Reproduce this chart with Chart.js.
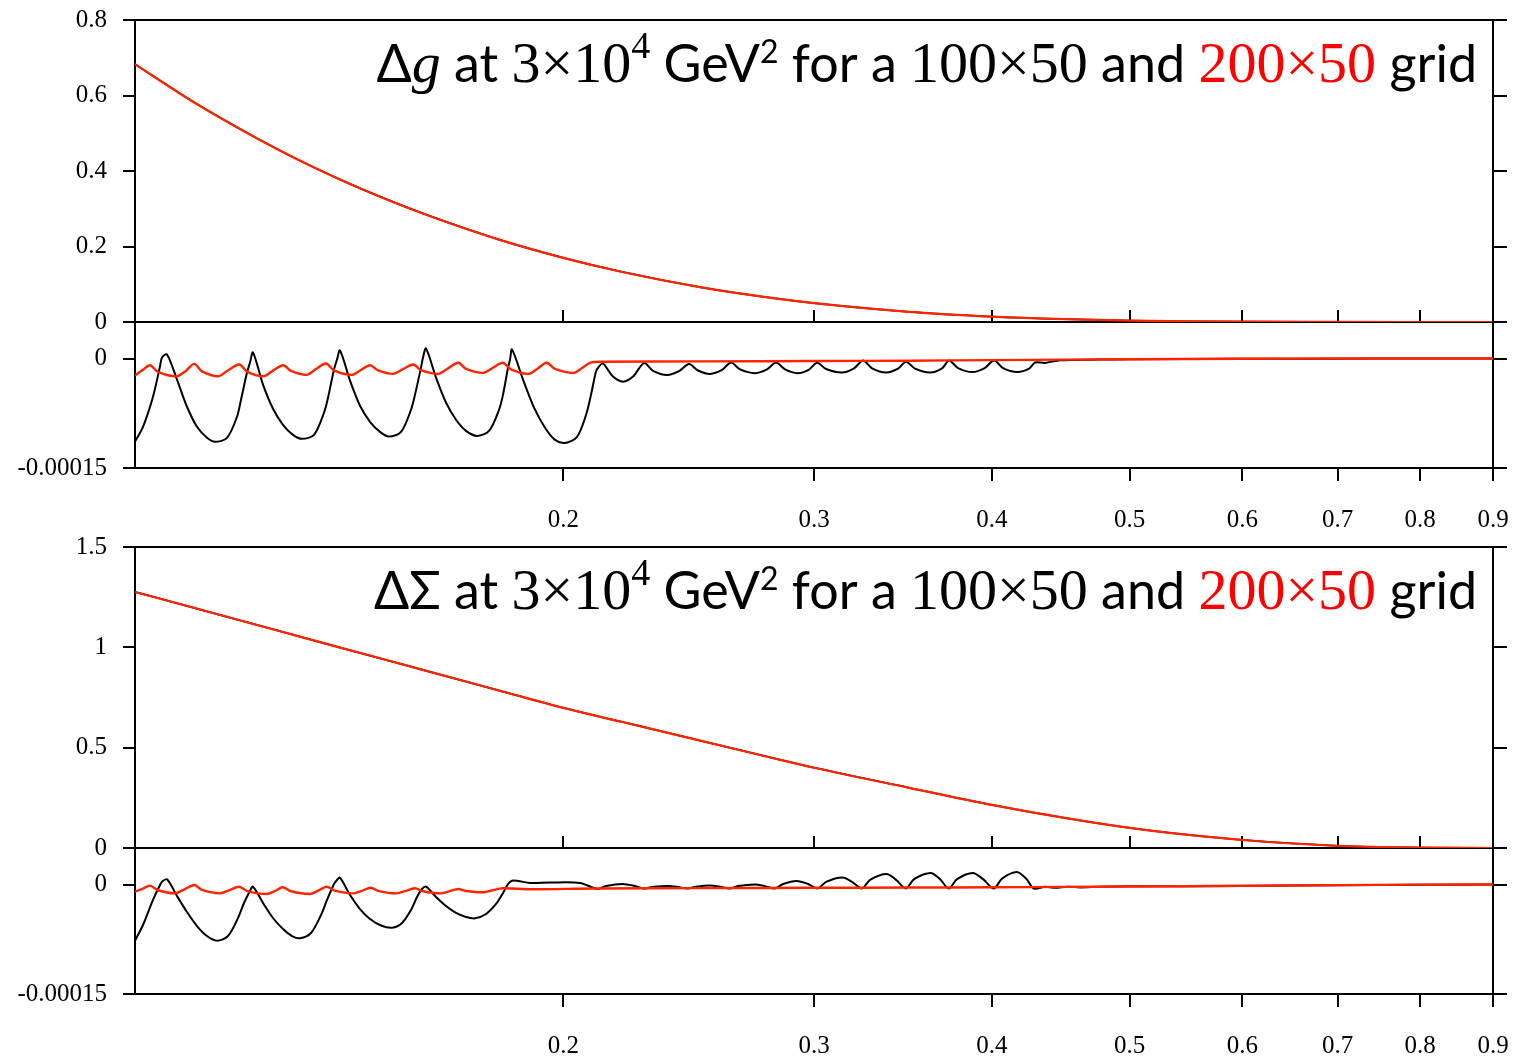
<!DOCTYPE html>
<html>
<head>
<meta charset="utf-8">
<title>Δg and ΔΣ grid comparison</title>
<script src="https://cdn.jsdelivr.net/npm/chart.js@4.4.1/dist/chart.umd.min.js"></script>
<style>
  html, body { margin: 0; padding: 0; background: #fff; overflow: hidden; }
  #page { position: relative; width: 1535px; height: 1057px; }
  canvas { position: absolute; left: 0; }
</style>
</head>
<body>
<div id="page">
  <canvas id="dg-main" width="1535" height="340" style="top:0px"></canvas>
  <canvas id="dg-res" width="1535" height="250" style="top:300px"></canvas>
  <canvas id="ds-main" width="1535" height="339" style="top:527px"></canvas>
  <canvas id="ds-res" width="1535" height="250" style="top:826px"></canvas>
</div>
<script>
// ---- tick positions ----
const xTicks = [0.2, 0.3, 0.4, 0.5, 0.6, 0.7, 0.8, 0.9];
const dgTicks = [0, 0.2, 0.4, 0.6, 0.8];
const dsTicks = [0, 0.5, 1, 1.5];
const resTicks = [-0.00015, 0];
const resTicksRight = [-0.00015, 0, 0.00005];

// ---- distributions at 3x10^4 GeV^2 ----
const xMain = [0.1, 0.11, 0.12, 0.13, 0.14, 0.15, 0.16, 0.18, 0.2, 0.22, 0.25, 0.28, 0.3, 0.35, 0.4, 0.45, 0.5, 0.55, 0.6, 0.7, 0.8, 0.9];
const dgGrid100 = [0.683, 0.582, 0.500, 0.431, 0.374, 0.326, 0.285, 0.219, 0.170, 0.1325, 0.0916, 0.0637, 0.050, 0.027, 0.0144, 0.0074, 0.0037, 0.0017, 0.00075, 0.0001, 0.00001, 0];
const dgGrid200 = [0.683, 0.582, 0.500, 0.431, 0.374, 0.326, 0.285, 0.219, 0.170, 0.1325, 0.0916, 0.0637, 0.050, 0.027, 0.0144, 0.0074, 0.0037, 0.0017, 0.00075, 0.0001, 0.00001, 0];
const dsGrid100 = [1.276, 1.197, 1.124, 1.057, 0.995, 0.938, 0.884, 0.786, 0.698, 0.628, 0.534, 0.450, 0.400, 0.300, 0.215, 0.150, 0.100, 0.065, 0.040, 0.011, 0.002, 0];
const dsGrid200 = [1.276, 1.197, 1.124, 1.057, 0.995, 0.938, 0.884, 0.786, 0.698, 0.628, 0.534, 0.450, 0.400, 0.300, 0.215, 0.150, 0.100, 0.065, 0.040, 0.011, 0.002, 0];

// ---- Δg differences, 100x50 grid ----
const dgRes100X = [
  0.100000, 0.101300, 0.102955, 0.104128, 0.104466, 0.105314, 0.107032, 0.108778, 0.110553, 0.112357,
  0.113820, 0.116052, 0.117945, 0.118711, 0.119869, 0.120452, 0.121038, 0.123013, 0.125020, 0.127059,
  0.129132, 0.131026, 0.133596, 0.135775, 0.136656, 0.137989, 0.138661, 0.139336, 0.141609, 0.143918,
  0.146266, 0.148653, 0.150833, 0.153791, 0.156299, 0.157314, 0.158849, 0.159364, 0.160139, 0.162752,
  0.165407, 0.168105, 0.170848, 0.173915, 0.177326, 0.180219, 0.181388, 0.182863, 0.183455, 0.184050,
  0.187355, 0.190720, 0.194145, 0.197312, 0.200531, 0.204462, 0.207462, 0.209148, 0.210847, 0.211873,
  0.213248, 0.216727, 0.220263, 0.223856, 0.227877, 0.231218, 0.236516, 0.241155, 0.245088, 0.248684,
  0.253559, 0.258531, 0.262324, 0.266173, 0.272712, 0.278058, 0.282138, 0.286278, 0.292128, 0.297614,
  0.301491, 0.305915, 0.313939, 0.320094, 0.324790, 0.329555, 0.337106, 0.343716, 0.348194, 0.353302,
  0.361982, 0.369081, 0.373285, 0.378761, 0.387754, 0.395356, 0.401481, 0.407368, 0.416702, 0.424874,
  0.429020, 0.436019, 0.446730, 0.476603, 0.5, 0.6, 0.7, 0.8, 0.9
];
const dgRes100 = [
  -11.38e-5, -9.36e-5, -5.23e-5, -1.10e-5, 0.14e-5, 0.55e-5, -2.89e-5, -6.61e-5, -9.36e-5, -10.87e-5,
  -11.42e-5, -10.87e-5, -7.98e-5, -5.64e-5, -1.93e-5, -0.55e-5, 0.83e-5, -3.58e-5, -6.88e-5, -9.08e-5,
  -10.46e-5, -11.01e-5, -10.46e-5, -7.43e-5, -5.37e-5, -1.51e-5, -0.14e-5, 1.10e-5, -3.03e-5, -6.47e-5,
  -8.67e-5, -10.05e-5, -10.69e-5, -10.05e-5, -7.02e-5, -4.95e-5, -1.24e-5, 0.14e-5, 1.38e-5, -2.61e-5,
  -6.05e-5, -8.39e-5, -9.91e-5, -10.60e-5, -9.91e-5, -7.02e-5, -4.95e-5, -1.24e-5, -0.14e-5, 1.24e-5,
  -2.89e-5, -6.74e-5, -9.49e-5, -11.15e-5, -11.56e-5, -10.73e-5, -7.71e-5, -4.95e-5, -1.79e-5, -1.10e-5,
  -0.69e-5, -2.48e-5, -3.17e-5, -2.48e-5, -0.63e-5, -1.69e-5, -2.26e-5, -1.74e-5, -0.77e-5, -1.64e-5,
  -2.11e-5, -1.56e-5, -0.54e-5, -1.50e-5, -2.01e-5, -1.50e-5, -0.54e-5, -1.50e-5, -2.01e-5, -1.51e-5,
  -0.58e-5, -1.44e-5, -1.91e-5, -1.34e-5, -0.28e-5, -1.34e-5, -1.91e-5, -1.39e-5, -0.43e-5, -1.39e-5,
  -1.91e-5, -1.34e-5, -0.28e-5, -1.31e-5, -1.86e-5, -1.31e-5, -0.28e-5, -1.31e-5, -1.86e-5, -1.40e-5,
  -0.55e-5, -0.60e-5, -0.25e-5, -0.15e-5, -0.10e-5, -0.05e-5, -0.02e-5, 0, 0
];

// ---- Δg differences, 200x50 grid ----
const dgRes200X = [
  0.100000, 0.101303, 0.102457, 0.103792, 0.106980, 0.108603, 0.110071, 0.111451, 0.114430, 0.116052,
  0.118385, 0.119869, 0.123073, 0.124818, 0.127121, 0.128715, 0.132027, 0.133812, 0.136215, 0.137990,
  0.142000, 0.143918, 0.146266, 0.148172, 0.151886, 0.154040, 0.156882, 0.158849, 0.163359, 0.165675,
  0.168732, 0.170848, 0.175698, 0.178189, 0.181301, 0.183752, 0.188969, 0.191648, 0.194680, 0.197312,
  0.203243, 0.206124, 0.208810, 0.212216, 0.25, 0.3, 0.35, 0.4, 0.45, 0.5, 0.6, 0.7, 0.9
];
const dgRes200 = [
  -2.34e-5, -1.55e-5, -0.92e-5, -1.83e-5, -2.44e-5, -1.67e-5, -0.73e-5, -1.76e-5, -2.44e-5, -1.72e-5,
  -0.83e-5, -1.80e-5, -2.44e-5, -1.76e-5, -0.92e-5, -1.71e-5, -2.24e-5, -1.54e-5, -0.69e-5, -1.62e-5,
  -2.24e-5, -1.65e-5, -0.92e-5, -1.63e-5, -2.11e-5, -1.53e-5, -0.83e-5, -1.60e-5, -2.11e-5, -1.43e-5,
  -0.59e-5, -1.42e-5, -1.97e-5, -1.35e-5, -0.59e-5, -1.50e-5, -2.11e-5, -1.43e-5, -0.59e-5, -1.42e-5,
  -1.97e-5, -1.30e-5, -0.59e-5, -0.45e-5, -0.40e-5, -0.35e-5, -0.30e-5, -0.22e-5, -0.15e-5, -0.10e-5, -0.04e-5, 0, 0
];

// ---- ΔΣ differences, 100x50 grid ----
const dsRes100X = [
  0.100000, 0.101300, 0.102955, 0.104128, 0.104466, 0.105314, 0.107032, 0.108778, 0.110553, 0.112357,
  0.114189, 0.116240, 0.118136, 0.119289, 0.120452, 0.121038, 0.123013, 0.125020, 0.127059, 0.128923,
  0.130603, 0.132948, 0.135117, 0.136435, 0.137990, 0.138661, 0.139336, 0.141609, 0.143918, 0.146266,
  0.148893, 0.151567, 0.154040, 0.156299, 0.157824, 0.159106, 0.160139, 0.162752, 0.165407, 0.168105,
  0.170848, 0.173354, 0.176467, 0.179346, 0.181388, 0.182863, 0.184050, 0.185846, 0.189490, 0.195722,
  0.205458, 0.211393, 0.214286, 0.220085, 0.224218, 0.227692, 0.230846, 0.237054, 0.240765, 0.244494,
  0.247880, 0.253437, 0.257696, 0.261730, 0.265313, 0.272492, 0.277161, 0.281591, 0.285352, 0.291702,
  0.297133, 0.301785, 0.305915, 0.314193, 0.319060, 0.324108, 0.328490, 0.337379, 0.342605, 0.348025,
  0.352733, 0.362275, 0.367889, 0.373044, 0.378149, 0.387816, 0.394397, 0.401286, 0.406711, 0.416502,
  0.422816, 0.428118, 0.436019, 0.443131, 0.452551, 0.461425, 0.476603, 0.5, 0.6, 0.7, 0.8, 0.9
];
const dsRes100 = [
  -7.70e-5, -5.55e-5, -2.12e-5, -0.07e-5, 0.38e-5, 0.71e-5, -1.58e-5, -3.77e-5, -5.69e-5, -7.06e-5,
  -7.70e-5, -7.06e-5, -4.59e-5, -2.53e-5, -0.89e-5, -0.30e-5, -2.53e-5, -4.59e-5, -6.10e-5, -7.06e-5,
  -7.37e-5, -6.64e-5, -4.18e-5, -2.12e-5, 0.07e-5, 0.62e-5, 0.93e-5, -1.44e-5, -3.36e-5, -4.73e-5,
  -5.62e-5, -5.92e-5, -5.27e-5, -3.49e-5, -1.71e-5, -0.62e-5, -0.30e-5, -1.71e-5, -2.95e-5, -3.90e-5,
  -4.45e-5, -4.63e-5, -4.04e-5, -2.67e-5, -1.16e-5, 0.07e-5, 0.52e-5, 0.48e-5, 0.21e-5, 0.27e-5,
  0.21e-5, -0.62e-5, -0.21e-5, 0.07e-5, -0.18e-5, -0.55e-5, -0.34e-5, -0.20e-5, -0.34e-5, -0.55e-5,
  -0.30e-5, -0.14e-5, -0.30e-5, -0.55e-5, -0.22e-5, 0, -0.22e-5, -0.55e-5, 0.07e-5, 0.48e-5,
  0.07e-5, -0.55e-5, 0.36e-5, 0.96e-5, 0.36e-5, -0.55e-5, 0.64e-5, 1.44e-5, 0.64e-5, -0.55e-5,
  0.73e-5, 1.58e-5, 0.73e-5, -0.55e-5, 0.73e-5, 1.58e-5, 0.73e-5, -0.55e-5, 0.81e-5, 1.71e-5,
  0.81e-5, -0.55e-5, -0.30e-5, -0.45e-5, -0.30e-5, -0.40e-5, -0.30e-5, -0.25e-5, -0.20e-5, -0.10e-5, -0.05e-5, 0
];

// ---- ΔΣ differences, 200x50 grid ----
const dsRes200X = [
  0.100000, 0.101303, 0.102457, 0.103792, 0.106687, 0.108252, 0.110071, 0.111451, 0.114745, 0.116428,
  0.118385, 0.119869, 0.123752, 0.125425, 0.126997, 0.128715, 0.132733, 0.134463, 0.136369, 0.138213,
  0.142367, 0.144386, 0.146432, 0.148412, 0.152724, 0.154789, 0.157314, 0.159364, 0.163809, 0.166212,
  0.168732, 0.170848, 0.175698, 0.178189, 0.181301, 0.189490, 0.21, 0.25, 0.3, 0.35,
  0.4, 0.45, 0.5, 0.6, 0.7, 0.8, 0.9
];
const dsRes200 = [
  -0.99e-5, -0.55e-5, -0.16e-5, -0.79e-5, -1.21e-5, -0.70e-5, -0.07e-5, -0.75e-5, -1.21e-5, -0.80e-5,
  -0.30e-5, -0.90e-5, -1.30e-5, -0.89e-5, -0.38e-5, -0.93e-5, -1.30e-5, -0.85e-5, -0.30e-5, -0.85e-5,
  -1.21e-5, -0.86e-5, -0.44e-5, -0.90e-5, -1.21e-5, -0.90e-5, -0.52e-5, -0.93e-5, -1.21e-5, -0.94e-5,
  -0.62e-5, -0.89e-5, -1.07e-5, -0.82e-5, -0.52e-5, -0.66e-5, -0.55e-5, -0.50e-5, -0.45e-5, -0.42e-5,
  -0.38e-5, -0.33e-5, -0.28e-5, -0.18e-5, -0.08e-5, -0.02e-5, 0
];

const BLACK = '#000000';
const RED = 'rgb(255, 36, 0)';
const SANS = "Lato, 'Open Sans', sans-serif";
const SERIF = "'Liberation Serif', 'Times New Roman', serif";

Chart.defaults.font.family = SERIF;
Chart.defaults.color = BLACK;

const pts = (xs, ys) => xs.map((x, i) => ({ x: x, y: ys[i] }));

function xAxis(position, tickLength, showLabels, height) {
  return {
    type: 'logarithmic',
    position: position,
    min: 0.1,
    max: 0.9,
    afterBuildTicks: s => { s.ticks = xTicks.map(v => ({ value: v })); },
    // fixed band height, no extra room for edge labels
    afterFit: s => { s.height = height; s.paddingLeft = 0; s.paddingRight = 0; },
    border: { display: true, color: BLACK, width: 2 },
    grid: { drawOnChartArea: false, drawTicks: tickLength !== 0, tickLength: tickLength, color: BLACK, lineWidth: 2 },
    ticks: {
      display: showLabels, autoSkip: false, maxRotation: 0, minRotation: 0,
      padding: 24, font: { size: 25 }, color: BLACK,
      callback: v => String(v)
    }
  };
}

function yAxis(position, min, max, ticks, width, tickLength, showLabels) {
  return {
    type: 'linear',
    position: position,
    min: min,
    max: max,
    afterBuildTicks: s => { s.ticks = ticks.map(v => ({ value: v })); },
    afterFit: s => { s.width = width; s.paddingTop = 0; s.paddingBottom = 0; },
    border: { display: true, color: BLACK, width: 2 },
    grid: { drawOnChartArea: false, drawTicks: true, tickLength: tickLength, color: BLACK, lineWidth: 2 },
    ticks: { display: showLabels, padding: 16, font: { size: 25 }, color: BLACK, callback: v => String(v) }
  };
}

// heading drawn as mixed text runs, right aligned
function titlePlugin(symbol) {
  const parts = [
    { text: 'Δ', font: '52px ' + SANS },
    symbol,
    { text: ' at ', font: '52px ' + SANS },
    { text: '3×10', font: '58px ' + SERIF },
    { text: '4', font: '38px ' + SERIF, rise: 24 },
    { text: ' GeV', font: '52px ' + SANS },
    { text: '2', font: '32px ' + SANS, rise: 19 },
    { text: ' for a ', font: '52px ' + SANS },
    { text: '100×50', font: '58px ' + SERIF },
    { text: ' and ', font: '52px ' + SANS },
    { text: '200×50', font: '58px ' + SERIF, color: '#ff0000' },
    { text: ' grid', font: '52px ' + SANS }
  ];
  return {
    id: 'panelTitle',
    afterDraw(chart) {
      const ctx = chart.ctx;
      ctx.save();
      ctx.textBaseline = 'alphabetic';
      let total = 0;
      parts.forEach(p => { ctx.font = p.font; p.w = ctx.measureText(p.text).width; total += p.w; });
      let x = 1477 - total;
      parts.forEach(p => {
        ctx.font = p.font;
        ctx.fillStyle = p.color || BLACK;
        ctx.fillText(p.text, x, 82 - (p.rise || 0));
        x += p.w;
      });
      ctx.restore();
    }
  };
}

function mainChart(id, grid100, grid200, yMax, yTicks, symbol) {
  return new Chart(document.getElementById(id), {
    type: 'line',
    data: {
      datasets: [
        { label: '200×50', data: pts(xMain, grid200), borderColor: RED, borderWidth: 2.2, pointRadius: 0, cubicInterpolationMode: 'monotone' },
        { label: '100×50', data: pts(xMain, grid100), borderColor: BLACK, borderWidth: 1.8, pointRadius: 0, cubicInterpolationMode: 'monotone' }
      ]
    },
    options: {
      responsive: false,
      animation: false,
      devicePixelRatio: 1,
      layout: { padding: { top: 20, left: 0, right: 0, bottom: 0 }, autoPadding: false },
      plugins: { legend: { display: false }, tooltip: { enabled: false } },
      scales: {
        x: xAxis('bottom', -12, false, 18),
        xTop: xAxis('top', 0, false, 0),
        y: yAxis('left', 0, yMax, yTicks, 135, 12, true),
        yR: yAxis('right', 0, yMax, yTicks, 42, 14, false)
      }
    },
    plugins: [titlePlugin(symbol)]
  });
}

function diffChart(id, x100, d100, x200, d200) {
  return new Chart(document.getElementById(id), {
    type: 'line',
    data: {
      datasets: [
        { label: '200×50', data: pts(x200, d200), borderColor: RED, borderWidth: 2.4, pointRadius: 0, tension: 0.3 },
        { label: '100×50', data: pts(x100, d100), borderColor: BLACK, borderWidth: 2, pointRadius: 0, tension: 0.3 }
      ]
    },
    options: {
      responsive: false,
      animation: false,
      devicePixelRatio: 1,
      layout: { padding: { top: 22, left: 0, right: 0, bottom: 0 }, autoPadding: false },
      plugins: { legend: { display: false }, tooltip: { enabled: false } },
      scales: {
        x: xAxis('bottom', 13, true, 82),
        y: yAxis('left', -0.00015, 0.00005, resTicks, 135, 12, true),
        yR: yAxis('right', -0.00015, 0.00005, resTicksRight, 42, 14, false)
      }
    }
  });
}

mainChart('dg-main', dgGrid100, dgGrid200, 0.8, dgTicks, { text: 'g', font: 'italic 58px ' + SERIF });
diffChart('dg-res', dgRes100X, dgRes100, dgRes200X, dgRes200);
mainChart('ds-main', dsGrid100, dsGrid200, 1.5, dsTicks, { text: 'Σ', font: '52px ' + SANS });
diffChart('ds-res', dsRes100X, dsRes100, dsRes200X, dsRes200);
</script>
</body>
</html>
